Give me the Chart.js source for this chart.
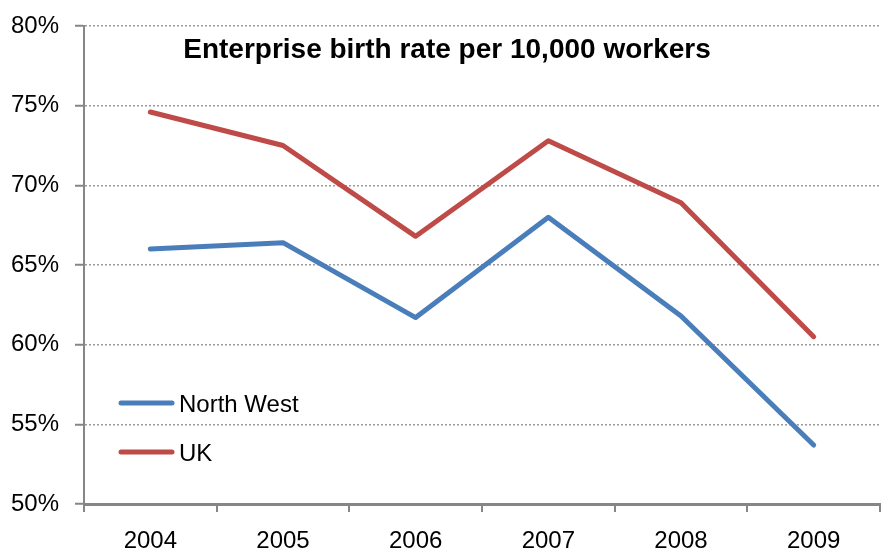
<!DOCTYPE html>
<html>
<head>
<meta charset="utf-8">
<script src="https://cdn.jsdelivr.net/npm/chart.js@4"></script>
<style>
  body { margin: 0; background: #fff; }
  #wrap { width: 881px; height: 550px; }
</style>
</head>
<body>
<div id="wrap"><canvas id="chart" width="881" height="550"></canvas></div>
<script>
// chart data
const years = ["2004", "2005", "2006", "2007", "2008", "2009"];
const northWest = [66.0, 66.4, 61.7, 68.0, 61.8, 53.7];
const uk = [74.6, 72.5, 66.8, 72.8, 68.9, 60.5];
const seriesNames = ["North West", "UK"];
const chartTitle = "Enterprise birth rate per 10,000 workers";

const blue = "#4a7ebb";
const red = "#be4b48";
const FONT = "'Liberation Sans', Arial, sans-serif";

// title + legend drawn inside the plot area
const insidePlugin = {
  id: "inside",
  afterDraw(chart) {
    const ctx = chart.ctx;
    const area = chart.chartArea;
    ctx.save();
    ctx.fillStyle = "#000";
    ctx.font = "bold 28px 'Liberation Sans Narrow', 'Liberation Sans', sans-serif";
    ctx.textAlign = "center";
    ctx.textBaseline = "middle";
    ctx.fillText(chartTitle, area.left + 363, area.top + 24);

    // legend
    ctx.font = "24px " + FONT;
    ctx.textAlign = "left";
    chart.data.datasets.forEach((ds, i) => {
      const y = area.top + 377 + i * 49;
      ctx.strokeStyle = ds.borderColor;
      ctx.lineWidth = 5;
      ctx.lineCap = "round";
      ctx.beginPath();
      ctx.moveTo(area.left + 37, y);
      ctx.lineTo(area.left + 88, y);
      ctx.stroke();
      ctx.fillText(ds.label, area.left + 95, y + 2);
    });
    ctx.restore();
  }
};

new Chart("chart", {
  type: "line",
  data: {
    labels: years,
    datasets: [
      { label: seriesNames[0], data: northWest, borderColor: blue, backgroundColor: blue },
      { label: seriesNames[1], data: uk, borderColor: red, backgroundColor: red }
    ]
  },
  options: {
    responsive: false,
    animation: false,
    layout: { padding: { left: 0, right: 1, top: 26, bottom: 0 } },
    elements: {
      line: { borderWidth: 5, tension: 0, borderCapStyle: "round", borderJoinStyle: "round" },
      point: { radius: 0, hoverRadius: 0 }
    },
    plugins: {
      legend: { display: false },
      title: { display: false },
      tooltip: { enabled: false }
    },
    scales: {
      x: {
        offset: true,
        afterFit(scale) { scale.height = 46; },
        grid: {
          offset: true,
          drawOnChartArea: false,
          drawTicks: true,
          tickLength: 8,
          color: "#868686",
          lineWidth: 2
        },
        border: { color: "#868686", width: 3 },
        ticks: { color: "#000", font: { family: FONT, size: 24 }, padding: 15, maxRotation: 0 }
      },
      y: {
        min: 50,
        max: 80,
        afterFit(scale) {
          scale.width = 84;
          scale.paddingTop = 0;
          scale.paddingBottom = 0;
        },
        grid: {
          color: "#9a9a9a",
          lineWidth: 1.5,
          tickLength: 9,
          drawTicks: true,
          tickColor: "#868686",
          tickWidth: 2
        },
        border: { color: "#868686", width: 2, dash: [2, 2] },
        ticks: {
          stepSize: 5,
          color: "#000",
          font: { family: FONT, size: 24 },
          padding: 16,
          callback: v => v + "%"
        }
      }
    }
  },
  plugins: [insidePlugin]
});
</script>
</body>
</html>
